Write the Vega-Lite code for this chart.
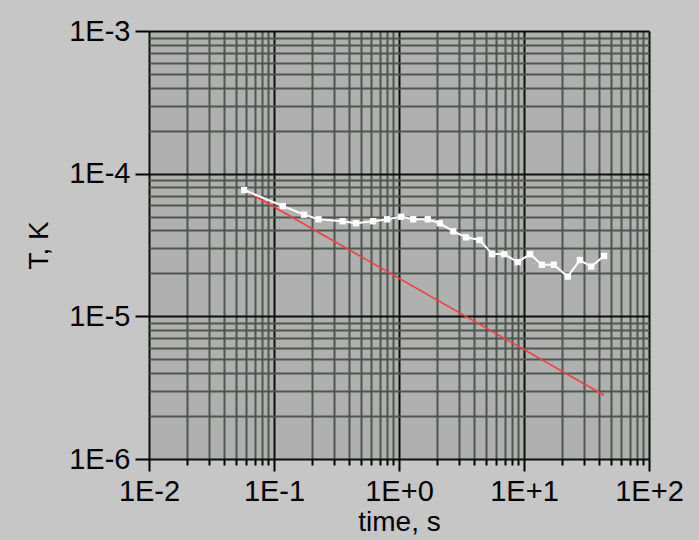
{
  "$schema": "https://vega.github.io/schema/vega-lite/v6.json",
  "width": 500,
  "height": 428,
  "autosize": "none",
  "padding": {"left": 149, "top": 31, "right": 50, "bottom": 81},
  "background": "#c6c6c6",
  "config": {
    "view": {"fill": "#b0b0b0", "stroke": null},
    "font": "Liberation Sans"
  },
  "datasets": {
    "measured": [
      {"t": 0.0577, "T": 7.68e-5},
      {"t": 0.1175, "T": 5.93e-5},
      {"t": 0.174, "T": 5.16e-5},
      {"t": 0.227, "T": 4.79e-5},
      {"t": 0.354, "T": 4.64e-5},
      {"t": 0.453, "T": 4.49e-5},
      {"t": 0.621, "T": 4.64e-5},
      {"t": 0.804, "T": 4.79e-5},
      {"t": 1.04, "T": 4.99e-5},
      {"t": 1.30, "T": 4.79e-5},
      {"t": 1.70, "T": 4.79e-5},
      {"t": 2.12, "T": 4.49e-5},
      {"t": 2.72, "T": 3.94e-5},
      {"t": 3.44, "T": 3.58e-5},
      {"t": 4.41, "T": 3.43e-5},
      {"t": 5.56, "T": 2.73e-5},
      {"t": 6.95, "T": 2.73e-5},
      {"t": 8.90, "T": 2.40e-5},
      {"t": 11.2, "T": 2.73e-5},
      {"t": 13.9, "T": 2.30e-5},
      {"t": 17.3, "T": 2.30e-5},
      {"t": 22.4, "T": 1.90e-5},
      {"t": 28.0, "T": 2.48e-5},
      {"t": 34.5, "T": 2.23e-5},
      {"t": 43.7, "T": 2.65e-5}
    ],
    "fit": [
      {"t": 0.0641, "T": 7.3e-5},
      {"t": 43.7, "T": 2.8e-6}
    ]
  },
  "encoding": {
    "x": {
      "field": "t",
      "type": "quantitative",
      "scale": {"type": "log", "domain": [0.01, 100], "nice": false, "zero": false},
      "axis": {
        "values": [0.01,0.02,0.03,0.04,0.05,0.06,0.07,0.08,0.09,0.1,0.2,0.3,0.4,0.5,0.6,0.7,0.8,0.9,1,2,3,4,5,6,7,8,9,10,20,30,40,50,60,70,80,90,100],
        "grid": true,
        "gridColor": {"condition": {"test": "abs(log(datum.value)/LN10 - round(log(datum.value)/LN10)) < 0.01", "value": "#0a0f0a"}, "value": "#4f564f"},
        "gridWidth": 2,
        "domain": false,
        "tickColor": "#000000",
        "tickWidth": 2,
        "tickSize": {"condition": {"test": "abs(log(datum.value)/LN10 - round(log(datum.value)/LN10)) < 0.01", "value": 12}, "value": 6},
        "labelExpr": "abs(log(datum.value)/LN10 - round(log(datum.value)/LN10)) < 0.01 ? ('1E' + (round(log(datum.value)/LN10) >= 0 ? '+' : '') + round(log(datum.value)/LN10)) : ''",
        "labelFont": "Liberation Sans",
        "labelFontSize": 29,
        "labelColor": "#000000",
        "labelPadding": 6,
        "labelOverlap": false,
        "labelFlush": false,
        "title": "time, s",
        "titleFont": "Liberation Sans",
        "titleFontSize": 28,
        "titleFontWeight": "normal",
        "titleColor": "#000000",
        "titlePadding": 2
      }
    },
    "y": {
      "field": "T",
      "type": "quantitative",
      "scale": {"type": "log", "domain": [1e-6, 1e-3], "nice": false, "zero": false},
      "axis": {
        "values": [1e-6,2e-6,3e-6,4e-6,5e-6,6e-6,7e-6,8e-6,9e-6,1e-5,2e-5,3e-5,4e-5,5e-5,6e-5,7e-5,8e-5,9e-5,1e-4,2e-4,3e-4,4e-4,5e-4,6e-4,7e-4,8e-4,9e-4,1e-3],
        "grid": true,
        "gridColor": {"condition": {"test": "abs(log(datum.value)/LN10 - round(log(datum.value)/LN10)) < 0.01", "value": "#0a0f0a"}, "value": "#4f564f"},
        "gridWidth": 2,
        "domain": false,
        "tickColor": "#000000",
        "tickWidth": 2,
        "tickSize": {"condition": {"test": "abs(log(datum.value)/LN10 - round(log(datum.value)/LN10)) < 0.01", "value": 14}, "value": 0},
        "labelExpr": "abs(log(datum.value)/LN10 - round(log(datum.value)/LN10)) < 0.01 ? ('1E' + (round(log(datum.value)/LN10) >= 0 ? '+' : '') + round(log(datum.value)/LN10)) : ''",
        "labelFont": "Liberation Sans",
        "labelFontSize": 29,
        "labelColor": "#000000",
        "labelPadding": 5,
        "labelOverlap": false,
        "labelFlush": false,
        "title": "T, K",
        "titleFont": "Liberation Sans",
        "titleFontSize": 28,
        "titleFontWeight": "normal",
        "titleColor": "#000000",
        "titlePadding": 15
      }
    }
  },
  "layer": [
    {
      "data": {"name": "fit"},
      "mark": {"type": "line", "color": "#f04040", "strokeWidth": 1.6, "clip": true}
    },
    {
      "data": {"name": "measured"},
      "mark": {"type": "line", "color": "#ffffff", "strokeWidth": 2, "clip": true,
               "point": {"filled": true, "shape": "square", "size": 40, "color": "#ffffff", "opacity": 1}}
    }
  ]
}
